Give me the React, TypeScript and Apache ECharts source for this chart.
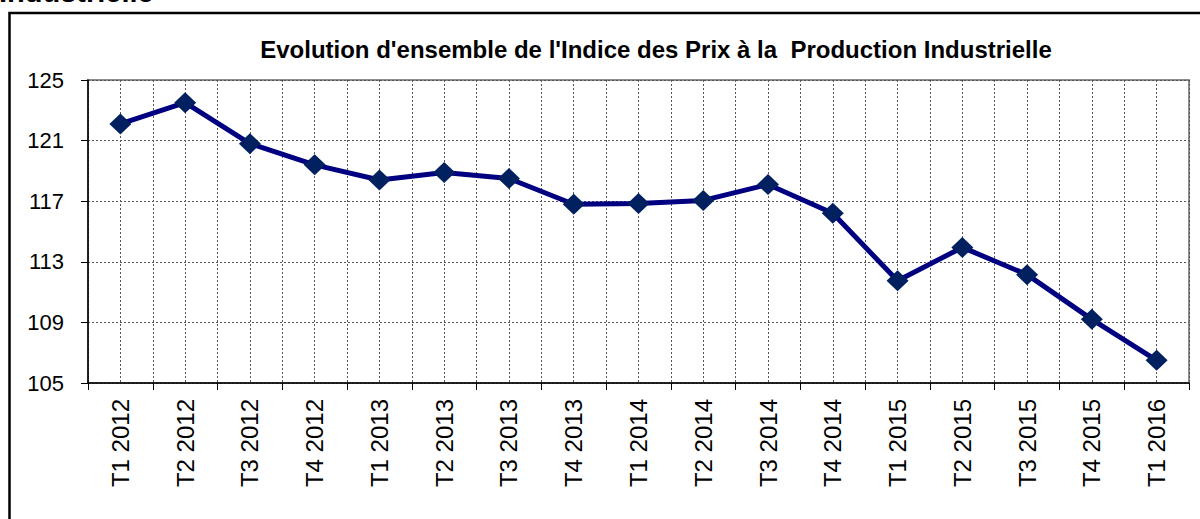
import React, { useEffect, useRef } from "react";
import * as echarts from "echarts";

const categories = [
  "T1 2012", "T2 2012", "T3 2012", "T4 2012",
  "T1 2013", "T2 2013", "T3 2013", "T4 2013",
  "T1 2014", "T2 2014", "T3 2014", "T4 2014",
  "T1 2015", "T2 2015", "T3 2015", "T4 2015",
  "T1 2016",
];
const indexValues = [
  122.1, 123.5, 120.8, 119.4,
  118.4, 118.9, 118.5, 116.8,
  116.85, 117.05, 118.1, 116.2,
  111.75, 113.95, 112.15, 109.2,
  106.5,
];
const yMin = 105;
const yMax = 125;
const yStep = 4;
const chartTitle = "Evolution d'ensemble de l'Indice des Prix à la  Production Industrielle";
const headerText = "Industrielle";

export default function App() {
  const ref = useRef<HTMLDivElement>(null);
  useEffect(() => {
    if (!ref.current) return;
    const chart = echarts.init(ref.current, null, { renderer: "svg" });
    const font = "'Liberation Sans', Arial, sans-serif";
    chart.setOption({
      animation: false,
      backgroundColor: "#ffffff",
      textStyle: { fontFamily: font },
      title: {
        text: chartTitle,
        left: 651,
        textAlign: "center",
        top: 32,
        textStyle: { fontFamily: font, fontSize: 24, fontWeight: "bold", color: "#000" },
      },
      graphic: [
        {
          type: "rect",
          shape: { x: 9.5, y: 13, width: 1200, height: 520 },
          style: { fill: "none", stroke: "#000", lineWidth: 2.5 },
          z: 10,
        },
        {
          type: "text",
          x: -1,
          y: 6.5,
          style: {
            text: headerText,
            fontFamily: font,
            fontSize: 29,
            fontWeight: "bold",
            fill: "#000",
            verticalAlign: "bottom",
          },
        },
      ],
      grid: {
        left: 88,
        right: 11,
        top: 80,
        bottom: 136,
        show: true,
        borderColor: "#8c8c8c",
        borderWidth: 2,
      },
      xAxis: [
        {
          type: "category",
          data: categories,
          boundaryGap: true,
          axisLine: { show: true, lineStyle: { color: "#000", width: 1.5 } },
          axisTick: { show: true, length: 7, lineStyle: { color: "#000" } },
          axisLabel: { rotate: 90, fontSize: 24, color: "#000", margin: 16, fontFamily: font, interval: 0 },
          splitLine: { show: false },
          z: 5,
        },
        {
          type: "value",
          min: 0,
          max: categories.length,
          interval: 0.5,
          show: true,
          axisLine: { show: false },
          axisTick: { show: false },
          axisLabel: { show: false },
          splitLine: { show: true, lineStyle: { color: "#555", type: [2, 2], width: 1 } },
        },
      ],
      yAxis: {
        type: "value",
        min: yMin,
        max: yMax,
        interval: yStep,
        axisLine: { show: true, lineStyle: { color: "#000", width: 1.5 } },
        axisTick: { show: true, length: 7, lineStyle: { color: "#000" } },
        axisLabel: { fontSize: 22, color: "#000", margin: 24, fontFamily: font },
        splitLine: { show: true, lineStyle: { color: "#555", type: [2, 2], width: 1 } },
        z: 5,
      },
      series: [
        {
          type: "line",
          data: indexValues,
          xAxisIndex: 0,
          symbol: "diamond",
          symbolSize: [22, 21],
          lineStyle: { color: "#000080", width: 5 },
          itemStyle: { color: "#002060" },
          z: 6,
        },
      ],
    });
    return () => chart.dispose();
  }, []);
  return (
    <div
      ref={ref}
      style={{ position: "fixed", left: 0, top: 0, width: 1200, height: 519 }}
    />
  );
}
